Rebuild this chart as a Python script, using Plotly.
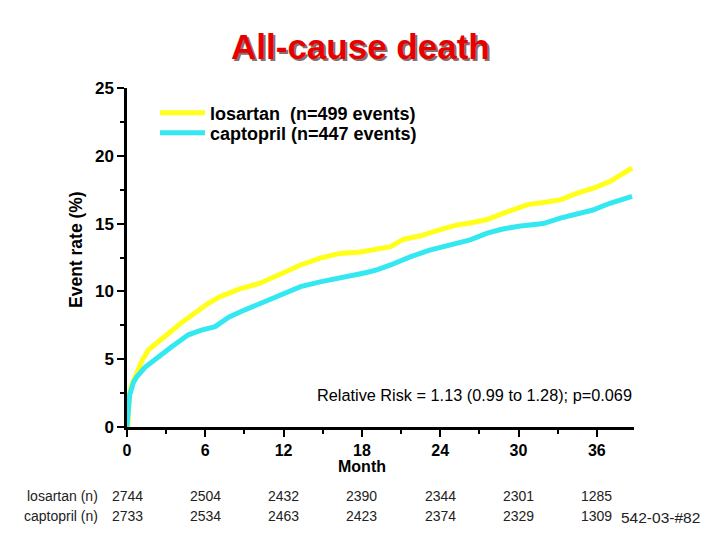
import plotly.graph_objects as go

# ---- data ----
losartan_months = [0, 0.05, 0.1, 0.2, 0.35, 0.8, 1.15, 1.65, 2.4, 3.1, 4.2, 5.2, 6.2, 7.1, 7.7,
                   8.7, 10.2, 11.7, 13.3, 14.8, 16.3, 17.9, 19.2, 20.2, 21.2, 22.5, 23.8, 25.3,
                   26.3, 27.6, 28.8, 30.0, 30.7, 31.9, 33.2, 34.5, 35.7, 37.0, 37.9, 38.7]
losartan_rate = [0, 0, 1.0, 2.5, 3.1, 4.2, 4.9, 5.7, 6.3, 6.9, 7.7, 8.4, 9.1, 9.6, 9.85,
                 10.2, 10.6, 11.3, 11.95, 12.45, 12.8, 12.9, 13.1, 13.3, 13.85, 14.1, 14.5, 14.9,
                 15.05, 15.3, 15.75, 16.2, 16.4, 16.55, 16.75, 17.25, 17.6, 18.1, 18.6, 19.1]

captopril_months = [0, 0.1, 0.2, 0.5, 0.75, 1.38, 2.4, 3.4, 4.7, 5.7, 6.75, 7.1, 7.8, 8.7,
                    10.2, 11.7, 13.3, 14.8, 16.3, 17.9, 18.6, 19.2, 20.2, 21.7, 23.2, 24.8,
                    26.3, 27.6, 28.8, 30.0, 30.7, 31.9, 33.2, 34.5, 35.7, 37.0, 37.9, 38.7]
captopril_rate = [0, 1.0, 2.35, 3.3, 3.7, 4.4, 5.2, 5.9, 6.8, 7.15, 7.4, 7.65, 8.1, 8.5,
                  9.1, 9.7, 10.35, 10.7, 10.95, 11.3, 11.45, 11.6, 11.95, 12.55, 13.05, 13.4,
                  13.8, 14.3, 14.6, 14.8, 14.9, 15.0, 15.4, 15.75, 16.0, 16.5, 16.75, 17.0]

risk_months = [0, 6, 12, 18, 24, 30, 36]
losartan_n = [2744, 2504, 2432, 2390, 2344, 2301, 1285]
captopril_n = [2733, 2534, 2463, 2423, 2374, 2329, 1309]

x_ticks = [0, 6, 12, 18, 24, 30, 36]
y_ticks = [0, 5, 10, 15, 20, 25]

BOLD = "Liberation Sans, Arial, sans-serif"
NARROW = "Liberation Sans Narrow, Arial Narrow, Liberation Sans, sans-serif"

fig = go.Figure()
fig.add_trace(go.Scatter(
    x=losartan_months, y=losartan_rate, mode="lines",
    name="losartan\u00a0 (n=499 events)", legend="legend",
    line=dict(color="#ffff1a", width=5)))
fig.add_trace(go.Scatter(
    x=captopril_months, y=captopril_rate, mode="lines",
    name="captopril (n=447 events)", legend="legend2",
    line=dict(color="#33e8f0", width=5)))

# the page body adds an 8px offset; plot area targets (screen px): x 127..634, y 88..427
W, H = 720, 540
OFF = 8
L, T = 127 - OFF, 88 - OFF
pw, ph = 507, 339
R, B = W - L - pw, H - T - ph


def px(xp):
    return (xp - 127) / pw


def py(yp):
    return (427 - yp) / ph


def ann(text, x, y, xref="paper", xanchor="center", size=15, family=BOLD, color="black", shadow=None, **kw):
    font = dict(family=family, size=size, color=color)
    if shadow:
        font["shadow"] = shadow
    return dict(text=text, x=x, y=y, xref=xref, yref="paper", xanchor=xanchor, yanchor="middle",
                showarrow=False, font=font, **kw)


annotations = []
annotations.append(ann("<b>All-cause death</b>", px(360), py(47), size=35, color="#e80000",
                       shadow="2px 2px 0px #857070"))
annotations.append(ann("<b>Event rate (%)</b>", px(76), py(250), size=17.5, textangle=-90))
annotations.append(ann("<b>Month</b>", 18, py(467), xref="x", size=16))
annotations.append(ann("Relative Risk = 1.13 (0.99 to 1.28); p=0.069", px(634), py(395),
                       xanchor="right", size=16.3))
annotations.append(ann("losartan (n)", px(100), py(496), xanchor="right", size=14, family=NARROW, color="#222"))
annotations.append(ann("captopril (n)", px(100), py(516), xanchor="right", size=14, family=NARROW, color="#222"))
for m, a, b in zip(risk_months, losartan_n, captopril_n):
    annotations.append(ann(str(a), m, py(496), xref="x", size=14, family=NARROW, color="#222"))
    annotations.append(ann(str(b), m, py(516), xref="x", size=14, family=NARROW, color="#222"))
annotations.append(ann("542-03-#82", px(619), py(518), xanchor="left", size=15.5, family=NARROW, color="#222"))

legend_font = dict(family=BOLD, size=18, color="black", weight="bold")
fig.update_layout(
    width=W, height=H, autosize=False,
    margin=dict(l=L, r=R, t=T, b=B, pad=0),
    paper_bgcolor="white", plot_bgcolor="white",
    showlegend=True,
    legend=dict(x=px(155), y=py(113), xanchor="left", yanchor="middle",
                bgcolor="rgba(0,0,0,0)", font=legend_font, itemwidth=45),
    legend2=dict(x=px(155), y=py(133), xanchor="left", yanchor="middle",
                 bgcolor="rgba(0,0,0,0)", font=legend_font, itemwidth=45),
    annotations=annotations,
    xaxis=dict(range=[0, 38.85], tickvals=x_ticks, ticks="outside", ticklen=7, tickwidth=2,
               tickcolor="black", showline=True, linewidth=2.5, linecolor="black",
               showgrid=False, zeroline=False,
               minor=dict(tick0=0, dtick=3, ticks="outside", ticklen=4, tickwidth=1.5, tickcolor="black"),
               tickfont=dict(family=BOLD, size=16, color="black", weight="bold")),
    yaxis=dict(range=[0, 25], tickvals=y_ticks, ticks="outside", ticklen=7, tickwidth=2,
               tickcolor="black", showline=True, linewidth=2.5, linecolor="black",
               showgrid=False, zeroline=False,
               minor=dict(tick0=0, dtick=2.5, ticks="outside", ticklen=4, tickwidth=1.5, tickcolor="black"),
               tickfont=dict(family=BOLD, size=17, color="black", weight="bold")),
)

fig.write_html("out.html")
